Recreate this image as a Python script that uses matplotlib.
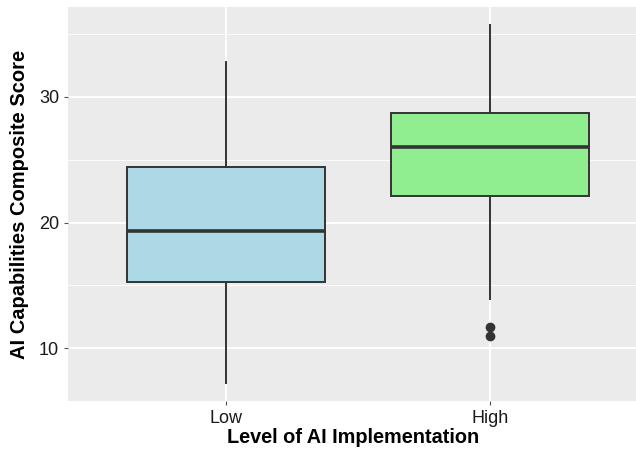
import matplotlib
matplotlib.use("Agg")
import matplotlib.pyplot as plt

categories = ["Low", "High"]
q1 = [15.3, 22.1]
median = [19.3, 26.0]
q3 = [24.4, 28.75]
whisker_low = [7.2, 13.95]
whisker_high = [32.8, 35.75]
outliers = [[], [11.65, 10.95]]
fill_colors = ["#ADD8E6", "#90EE90"]

plt.rcParams['font.family'] = ['Liberation Sans', 'DejaVu Sans']

fig = plt.figure(figsize=(6.36, 4.53), dpi=100)
ax = fig.add_axes([68/636, 52/453, 1 - 68/636 + 0.002, (401-7)/453])
ax.set_facecolor("#EBEBEB")

stats = []
for i, c in enumerate(categories):
    stats.append(dict(label=c, q1=q1[i], med=median[i], q3=q3[i],
                      whislo=whisker_low[i], whishi=whisker_high[i], fliers=outliers[i]))

pos = list(range(1, len(categories) + 1))
bp = ax.bxp(stats, positions=pos, widths=0.75, patch_artist=True, showcaps=False,
            boxprops=dict(edgecolor="#333333", linewidth=1.4),
            medianprops=dict(color="#333333", linewidth=2.6),
            whiskerprops=dict(color="#333333", linewidth=1.4),
            flierprops=dict(marker='o', markerfacecolor="#333333", markeredgecolor="#333333",
                            markersize=6))
for patch, col in zip(bp['boxes'], fill_colors):
    patch.set_facecolor(col)

ax.set_xlim(0.4, 2.557)
ax.set_ylim(5.8, 37.15)
ax.set_yticks([10, 20, 30])
ax.set_yticks([15, 25, 35], minor=True)
ax.set_xticks(pos)
ax.set_xticklabels(categories)
ax.grid(True, which='major', color='white', linewidth=1.3)
ax.grid(True, which='minor', axis='y', color='white', linewidth=0.6)
ax.set_axisbelow(True)
for s in ax.spines.values():
    s.set_visible(False)
ax.tick_params(axis='both', which='major', length=3, color="#555555", labelsize=13,
               labelcolor="#1a1a1a", pad=3.5)
ax.tick_params(axis='both', which='minor', length=0)

ax.set_xlabel("Level of AI Implementation", fontsize=14.3, fontweight='bold', labelpad=1)
ax.set_ylabel("AI Capabilities Composite Score", fontsize=14.5, fontweight='bold', labelpad=7)

fig.savefig("out.png", dpi=100)
